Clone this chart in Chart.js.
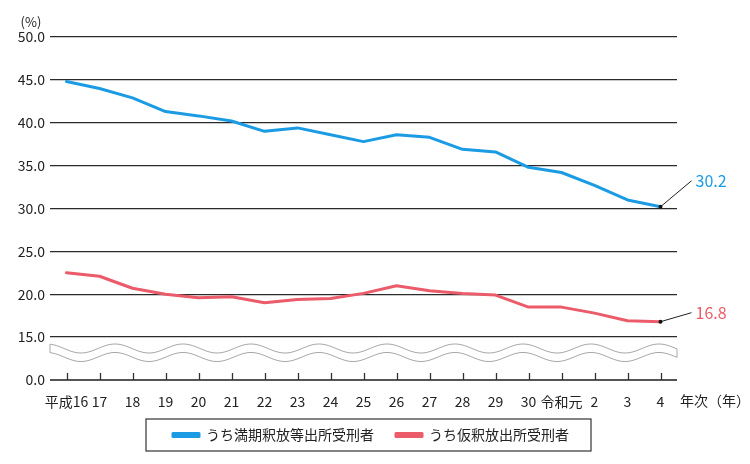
<!DOCTYPE html>
<html>
<head>
<meta charset="utf-8">
<script src="https://cdn.jsdelivr.net/npm/chart.js@4"></script>
<style>
  html, body { margin: 0; padding: 0; background: #fff; }
  #wrap { width: 750px; height: 464px; }
</style>
</head>
<body>
<div id="wrap"><canvas id="myChart" width="750" height="464"></canvas></div>
<script>
// Données
const years = ['平成16', '17', '18', '19', '20', '21', '22', '23', '24', '25',
  '26', '27', '28', '29', '30', '令和元', '2', '3', '4'];
const manki = [44.8, 44.0, 42.9, 41.3, 40.8, 40.2, 39.0, 39.4, 38.6, 37.8,
  38.6, 38.3, 36.9, 36.6, 34.8, 34.2, 32.7, 31.0, 30.2];
const karishaku = [22.5, 22.1, 20.7, 20.0, 19.6, 19.7, 19.0, 19.4, 19.5, 20.1,
  21.0, 20.4, 20.1, 19.9, 18.5, 18.5, 17.8, 16.9, 16.8];
// axe coupé : la valeur 10 est affichée comme 0.0
const yTicks = [10, 15, 20, 25, 30, 35, 40, 45, 50];
const yTickLabels = ['0.0', '15.0', '20.0', '25.0', '30.0', '35.0', '40.0', '45.0', '50.0'];

const BLUE = '#1a9be3';
const RED = '#eb5b69';
const FONT = '"Noto Sans CJK JP", "Noto Sans", sans-serif';

// Décor : vague, graduations, étiquettes, cadre légende
const decor = {
  id: 'decor',
  afterLayout(chart) {
    // la zone des étiquettes X déborde sous la hauteur fixée (évite la coupe)
    const xs = chart.scales.x;
    xs.bottom = xs.top + 40;
  },
  beforeDatasetsDraw(chart) {
    const { ctx, chartArea: a } = chart;
    // bande ondulée
    const period = 68, amp = 4.5, phase = 115;
    const yUp = 348.5, yLo = 357;
    const wave = (x, base) => base - amp * Math.cos((x - phase) / period * 2 * Math.PI);
    ctx.save();
    ctx.beginPath();
    for (let x = a.left; x <= a.right; x++) ctx.lineTo(x, wave(x, yUp));
    for (let x = a.right; x >= a.left; x--) ctx.lineTo(x, wave(x, yLo));
    ctx.closePath();
    ctx.fillStyle = '#fff';
    ctx.fill();
    ctx.strokeStyle = '#a8a8a8';
    ctx.lineWidth = 1;
    ctx.stroke();
    // graduations vers le haut
    const xs = chart.scales.x;
    ctx.strokeStyle = '#333';
    ctx.lineWidth = 1.3;
    xs.ticks.forEach((t, i) => {
      const x = Math.round(xs.getPixelForTick(i)) + 0.5;
      ctx.beginPath();
      ctx.moveTo(x, a.bottom - 7);
      ctx.lineTo(x, a.bottom);
      ctx.stroke();
    });
    ctx.restore();
  },
  afterDraw(chart) {
    const { ctx } = chart;
    ctx.save();
    ctx.fillStyle = '#222';
    ctx.font = '13px ' + FONT;
    ctx.textAlign = 'center';
    ctx.textBaseline = 'middle';
    ctx.fillText('(%)', 31, 22);
    ctx.font = '14px ' + FONT;
    ctx.textAlign = 'left';
    ctx.fillText('年次（年）', 680, 401);

    // valeurs finales avec trait de rappel
    const offs = [[31, -26], [31, -9]];
    chart.data.datasets.forEach((ds, i) => {
      const meta = chart.getDatasetMeta(i);
      const pt = meta.data[meta.data.length - 1];
      const val = ds.data[ds.data.length - 1];
      ctx.strokeStyle = '#222';
      ctx.lineWidth = 1;
      ctx.beginPath();
      ctx.moveTo(pt.x, pt.y);
      ctx.lineTo(pt.x + offs[i][0], pt.y + offs[i][1]);
      ctx.stroke();
      ctx.fillStyle = '#111';
      ctx.beginPath();
      ctx.arc(pt.x, pt.y, 2, 0, Math.PI * 2);
      ctx.fill();
      ctx.fillStyle = ds.borderColor;
      ctx.font = '16px ' + FONT;
      ctx.textAlign = 'left';
      ctx.fillText(val.toFixed(1), pt.x + offs[i][0] + 4, pt.y + offs[i][1]);
    });

    // cadre de la légende
    const hb = chart.legend.legendHitBoxes;
    if (hb && hb.length) {
      const first = hb[0], last = hb[hb.length - 1];
      const cy = first.top + first.height / 2;
      ctx.strokeStyle = '#333';
      ctx.lineWidth = 1.2;
      ctx.strokeRect(first.left - 27, cy - 16, (last.left + last.width + 22) - (first.left - 27), 32);
    }
    ctx.restore();
  }
};

const ctx = document.getElementById('myChart').getContext('2d');

new Chart(ctx, {
  type: 'line',
  data: {
    labels: years,
    datasets: [
      { label: 'うち満期釈放等出所受刑者', data: manki, borderColor: BLUE, backgroundColor: BLUE },
      { label: 'うち仮釈放出所受刑者', data: karishaku, borderColor: RED, backgroundColor: RED }
    ]
  },
  options: {
    responsive: false,
    animation: false,
    devicePixelRatio: 1,
    layout: { padding: { left: 0, right: 8, top: 37, bottom: 12 } },
    elements: {
      line: { borderWidth: 3, tension: 0, borderCapStyle: 'round', borderJoinStyle: 'round' },
      point: { radius: 0 }
    },
    scales: {
      x: {
        offset: true,
        afterFit(scale) { scale.height = 26; },
        grid: { display: false, drawTicks: false },
        border: { display: false },
        ticks: { color: '#222', font: { family: FONT, size: 14 }, padding: 13, maxRotation: 0, autoSkip: false }
      },
      y: {
        min: 10,
        max: 50,
        afterFit(scale) { scale.width = 50; },
        afterBuildTicks(scale) { scale.ticks = yTicks.map(v => ({ value: v })); },
        grid: {
          drawTicks: false,
          color: c => c.tick && c.tick.value === 10 ? '#555' : '#2b2b2b',
          lineWidth: c => c.tick && c.tick.value === 10 ? 2 : 1.3
        },
        border: { display: false },
        ticks: {
          color: '#222',
          padding: 5,
          font: { family: FONT, size: 14 },
          callback: (v) => yTickLabels[yTicks.indexOf(v)]
        }
      },
      // marge droite pour les valeurs finales
      yRight: {
        type: 'linear',
        position: 'right',
        afterFit(scale) { scale.width = 65; },
        grid: { display: false, drawTicks: false },
        border: { display: false },
        ticks: { display: false }
      }
    },
    plugins: {
      legend: {
        position: 'bottom',
        labels: {
          boxWidth: 26,
          boxHeight: 3,
          padding: 22,
          color: '#222',
          font: { family: FONT, size: 14 }
        }
      },
      tooltip: { enabled: false }
    }
  },
  plugins: [decor]
});
</script>
</body>
</html>
